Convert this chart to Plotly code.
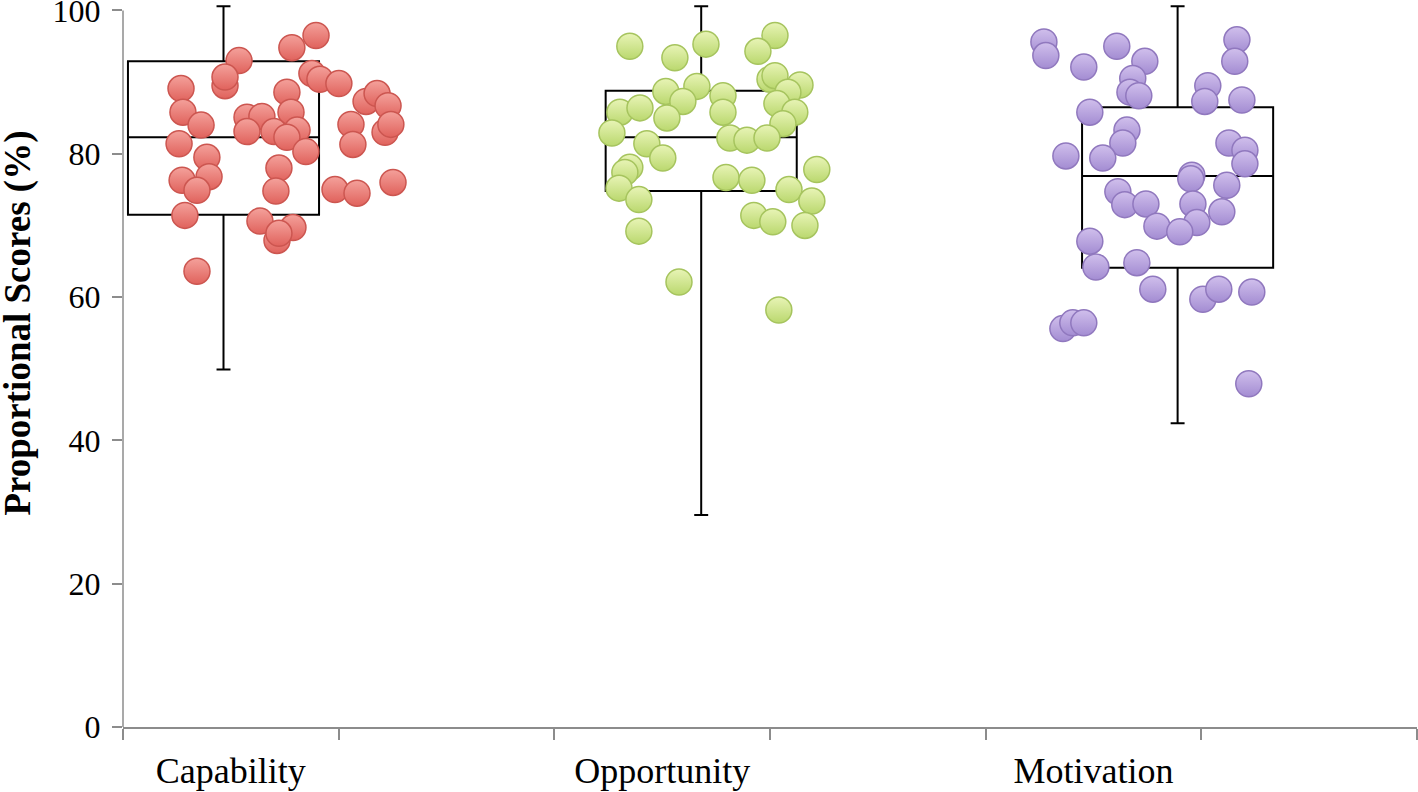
import plotly.graph_objects as go

# ---------------- data ----------------
categories = ["Capability", "Opportunity", "Motivation"]
category_pos = [0.5, 2.5, 4.5]

cap_x = [0.895, 0.783, 0.538, 0.473, 0.473, 0.269, 0.876, 0.913, 1.001, 0.760,
         1.127, 1.178, 1.229, 0.278, 0.362, 0.575, 0.644, 0.779, 0.575, 0.700,
         0.807, 0.760, 0.848, 1.057, 1.066, 1.215, 1.242, 0.260, 0.389, 0.723,
         0.399, 0.274, 0.343, 0.709, 0.983, 1.085, 1.252, 0.287, 0.635, 0.788,
         0.714, 0.723, 0.343]
cap_y = [96.5, 94.8, 93.0, 89.5, 90.7, 89.1, 91.2, 90.4, 89.8, 88.6,
         87.3, 88.4, 86.7, 85.8, 84.0, 85.1, 85.2, 85.8, 83.1, 83.1,
         83.3, 82.3, 80.3, 84.1, 81.3, 83.0, 84.1, 81.4, 79.5, 78.0,
         76.8, 76.3, 74.9, 74.8, 75.0, 74.5, 76.0, 71.4, 70.6, 69.7,
         67.9, 68.9, 63.6]

opp_x = [2.350, 2.559, 2.703, 3.023, 2.944, 2.517, 2.661, 2.782, 3.000, 3.139,
         3.023, 3.083, 2.304, 2.397, 2.596, 2.522, 2.782, 3.032, 3.115, 3.060,
         2.267, 2.429, 2.503, 2.814, 2.893, 2.986, 2.350, 2.327, 2.796, 2.916,
         3.217, 2.300, 2.392, 2.392, 2.578, 3.088, 3.194, 2.925, 3.013, 3.162,
         3.041]
opp_y = [95.0, 93.4, 95.3, 96.5, 94.3, 88.7, 89.4, 88.1, 90.4, 89.6,
         90.9, 88.6, 85.8, 86.4, 87.3, 85.0, 85.8, 87.0, 85.8, 84.2,
         82.9, 81.4, 79.4, 82.2, 81.9, 82.2, 78.1, 77.4, 76.7, 76.3,
         77.8, 75.2, 73.6, 69.2, 62.1, 75.0, 73.4, 71.4, 70.5, 70.0,
         58.2]

mot_x = [4.270, 4.279, 4.455, 4.608, 4.738, 4.682, 4.669, 4.710, 5.165, 5.155,
         5.030, 5.016, 5.188, 4.483, 4.655, 4.636, 4.372, 4.543, 5.128, 5.202,
         5.202, 4.956, 4.951, 5.118, 4.613, 4.645, 4.743, 4.961, 5.095, 4.979,
         4.794, 4.900, 4.483, 4.511, 4.701, 4.775, 5.007, 5.081, 5.234, 4.358,
         4.404, 4.455, 5.220]
mot_y = [95.6, 93.7, 92.1, 95.0, 92.9, 90.5, 88.6, 88.1, 95.9, 92.9,
         89.5, 87.3, 87.5, 85.8, 83.3, 81.5, 79.7, 79.4, 81.5, 80.5,
         78.6, 77.0, 76.5, 75.6, 74.7, 72.9, 73.0, 73.0, 71.9, 70.4,
         69.9, 69.1, 67.8, 64.2, 64.8, 61.1, 59.7, 61.1, 60.7, 55.6,
         56.4, 56.4, 47.9]

# box summary statistics
box_pos = [0.466, 2.681, 4.890]
box_min = [49.9, 29.6, 42.4]
box_q1 = [71.5, 74.8, 64.1]
box_med = [82.3, 82.3, 76.9]
box_q3 = [92.9, 88.8, 86.5]
box_max = [100.6, 100.6, 100.6]

y_ticks = [0, 20, 40, 60, 80, 100]

# ---------------- styles ----------------
series = [
    (cap_x, cap_y, "#F4A19B", "#E0625C", "#CC5650"),
    (opp_x, opp_y, "#E8F4B6", "#BAD86E", "#A6C45E"),
    (mot_x, mot_y, "#D0BFEC", "#A38CD2", "#9078BE"),
]
AXIS_GRAY = "#8C8C8C"
SERIF = "Liberation Serif, Times New Roman, serif"

fig = go.Figure()

for xs, ys, top, bottom, edge in series:
    fig.add_trace(go.Scatter(
        x=xs, y=ys, mode="markers", showlegend=False, hoverinfo="skip",
        marker=dict(size=26, color=top,
                    gradient=dict(type="vertical", color=bottom),
                    line=dict(color=edge, width=1.5)),
    ))

for i in range(3):
    fig.add_trace(go.Box(
        x=[box_pos[i]], q1=[box_q1[i]], median=[box_med[i]], q3=[box_q3[i]],
        lowerfence=[box_min[i]], upperfence=[box_max[i]],
        width=0.886, whiskerwidth=0.073, boxpoints=False,
        line=dict(color="black", width=2), fillcolor="rgba(0,0,0,0)",
        showlegend=False, hoverinfo="skip",
    ))

fig.update_layout(
    width=1418, height=792,
    margin=dict(l=123, r=1, t=4, b=65, autoexpand=False),
    plot_bgcolor="white", paper_bgcolor="white",
    boxmode="overlay",
    font=dict(family=SERIF, color="black"),
    showlegend=False,
)

fig.update_xaxes(
    range=[0, 6], showgrid=False, zeroline=False, automargin=False,
    showline=True, linecolor=AXIS_GRAY, linewidth=1.5,
    tickmode="array", tickvals=category_pos, ticktext=categories,
    ticks="", tickfont=dict(family=SERIF, size=36, color="black"),
    ticklabelstandoff=11, ticklabeloverflow="allow",
    minor=dict(tickmode="linear", tick0=0, dtick=1, ticks="outside",
               ticklen=11, tickwidth=1.5, tickcolor=AXIS_GRAY, showgrid=False),
)

fig.update_yaxes(
    range=[0, 100.9], showgrid=False, zeroline=False, showline=False,
    automargin=False,
    tickmode="array", tickvals=y_ticks, ticks="outside", ticklen=10,
    tickwidth=1.5, tickcolor=AXIS_GRAY,
    tickfont=dict(family=SERIF, size=32, color="black"),
    ticklabelstandoff=5, ticklabeloverflow="allow",
)

# y axis line (0..100 only)
fig.add_shape(type="line", xref="paper", yref="y", x0=0, x1=0, y0=0, y1=100,
              line=dict(color=AXIS_GRAY, width=1.5), layer="above")

fig.add_annotation(
    text="<b>Proportional Scores (%)</b>", textangle=-90,
    xref="paper", yref="y", x=0, y=56.3, xanchor="center", yanchor="middle",
    xshift=-105, showarrow=False,
    font=dict(family=SERIF, size=37, color="black"),
)

fig.write_html(
    "out.html",
    config={"displayModeBar": False},
    post_script="document.body.style.margin='0';document.body.style.overflow='hidden';",
)
